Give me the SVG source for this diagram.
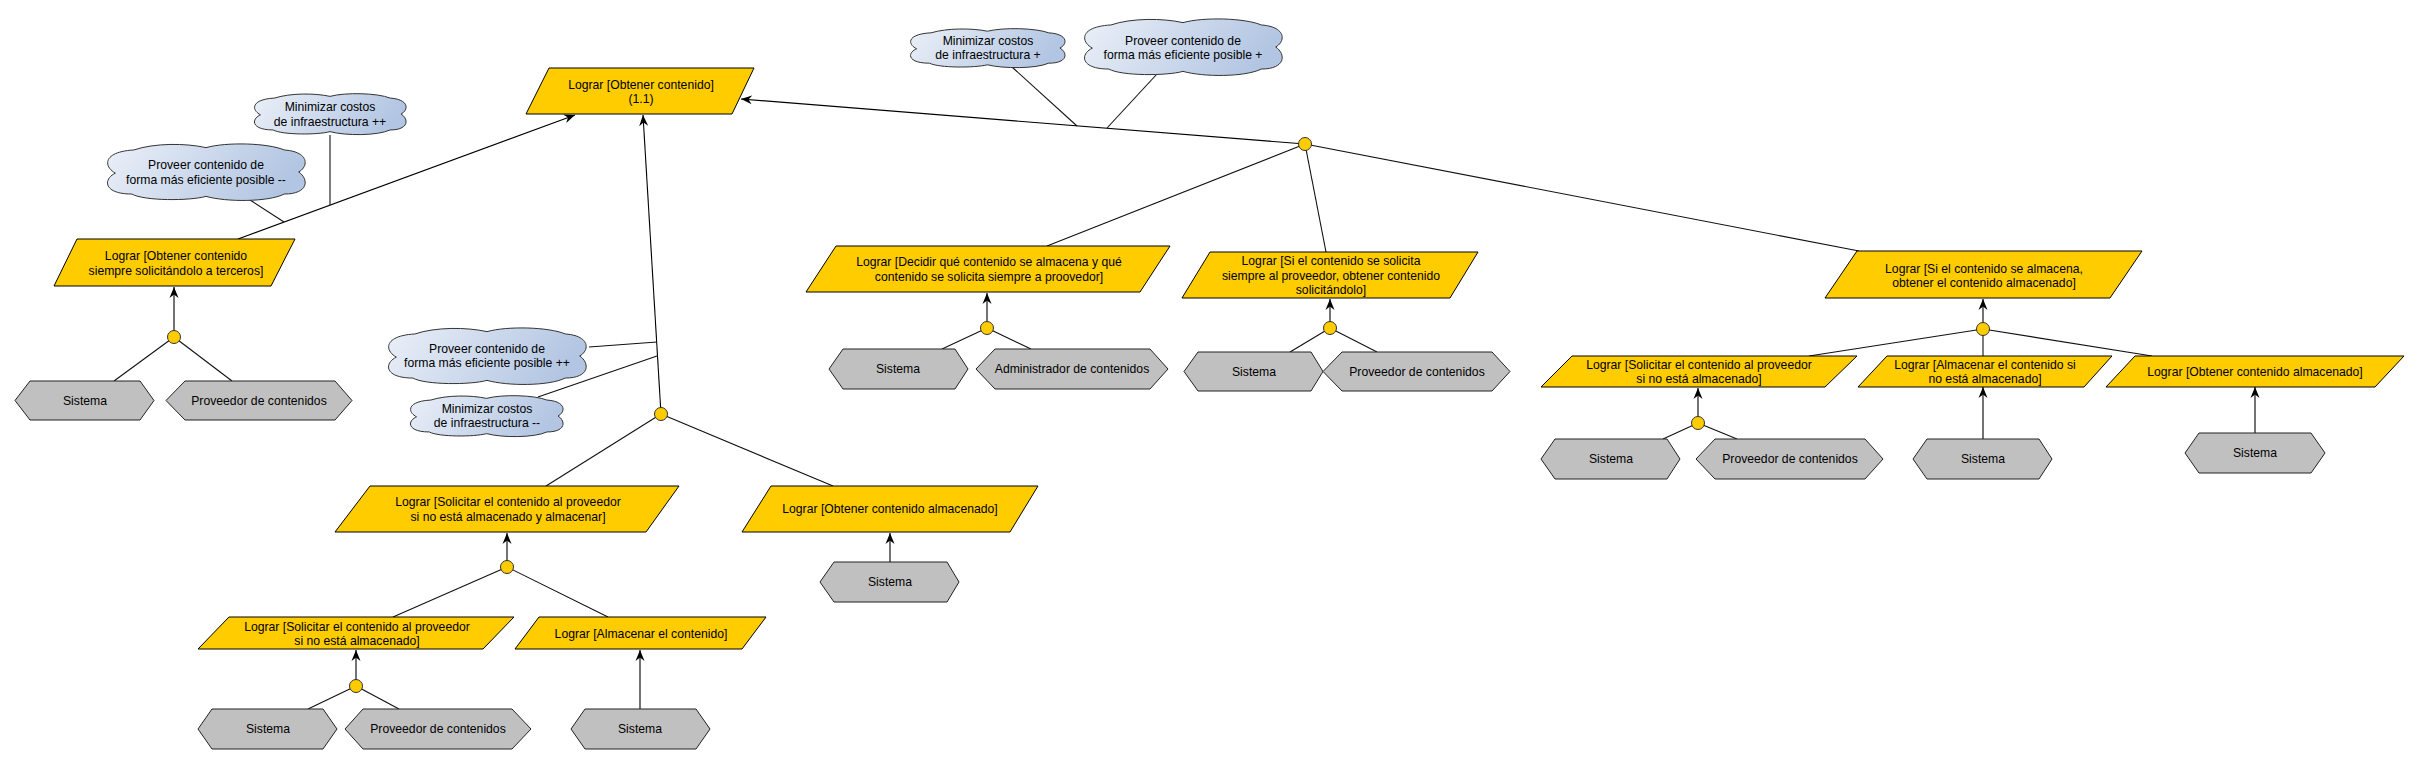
<svg xmlns="http://www.w3.org/2000/svg" xmlns:xlink="http://www.w3.org/1999/xlink" width="2417" height="765" viewBox="0 0 2417 765">
<style>
.goal{fill:#FFCC00;stroke:#000;stroke-width:1}
.actor{fill:#C0C0C0;stroke:#222;stroke-width:1}
.dot{fill:#FFCC00;stroke:#333;stroke-width:1}
.ln{stroke:#111;stroke-width:1.1;fill:none}
.arr{stroke:#000;stroke-width:1.1;fill:none;marker-end:url(#ah)}
text{font-family:"Liberation Sans",Arial,sans-serif;font-size:12.2px;fill:#000;text-anchor:middle}
</style>
<defs>
<linearGradient id="cg" x1="0" y1="0" x2="1" y2="0.2">
<stop offset="0" stop-color="#EBF0F8"/>
<stop offset="1" stop-color="#B2C5E2"/>
</linearGradient>
<path id="cloud" d="M0.06,0.52 C0,0.40 0,0.15 0.15,0.12 C0.25,0 0.40,0 0.50,0.08 C0.60,-0.02 0.80,0 0.88,0.12 C1,0.15 1,0.40 0.95,0.50 C1,0.62 1,0.88 0.88,0.88 C0.80,1.02 0.60,1.02 0.50,0.92 C0.42,1 0.20,1 0.14,0.88 C0,0.88 0,0.62 0.06,0.52 Z" fill="url(#cg)" stroke="#333" stroke-width="1" vector-effect="non-scaling-stroke"/>
<marker id="ah" viewBox="-11 -5 12 10" refX="0" refY="0" markerWidth="12" markerHeight="10" orient="auto" markerUnits="userSpaceOnUse">
<path d="M0,0 L-11,-4.5 L-7.5,0 L-11,4.5 Z" fill="#000"/>
</marker>
</defs>
<rect width="2417" height="765" fill="#fff"/>

<g id="connectors">
<line class="arr" x1="238" y1="239" x2="575" y2="115"/>
<line class="arr" x1="1305" y1="144" x2="741" y2="99"/>
<line class="arr" x1="661" y1="414" x2="643" y2="115"/>
<line class="ln" x1="330" y1="135" x2="330" y2="205"/>
<line class="ln" x1="247" y1="198" x2="284" y2="222"/>
<line class="ln" x1="1012" y1="67" x2="1077" y2="126"/>
<line class="ln" x1="1157" y1="74" x2="1107" y2="128"/>
<line class="ln" x1="589" y1="347" x2="657" y2="342"/>
<line class="ln" x1="538" y1="397" x2="657" y2="356"/>
<line class="ln" x1="1305" y1="144" x2="1047" y2="246"/>
<line class="ln" x1="1305" y1="144" x2="1326" y2="252"/>
<line class="ln" x1="1305" y1="144" x2="1859" y2="251"/>
<line class="arr" x1="174" y1="331" x2="174" y2="287"/>
<line class="ln" x1="174" y1="337" x2="114" y2="381"/>
<line class="ln" x1="174" y1="337" x2="232" y2="381"/>
<line class="arr" x1="987" y1="322" x2="987" y2="293"/>
<line class="ln" x1="987" y1="328" x2="942" y2="349"/>
<line class="ln" x1="987" y1="328" x2="1031" y2="349"/>
<line class="arr" x1="1330" y1="322" x2="1330" y2="299"/>
<line class="ln" x1="1330" y1="328" x2="1290" y2="352"/>
<line class="ln" x1="1330" y1="328" x2="1377" y2="352"/>
<line class="arr" x1="1983" y1="323" x2="1983" y2="299"/>
<line class="ln" x1="1983" y1="329" x2="1809" y2="356"/>
<line class="ln" x1="1983" y1="329" x2="1983" y2="356"/>
<line class="ln" x1="1983" y1="329" x2="2152" y2="356"/>
<line class="arr" x1="1698" y1="417" x2="1698" y2="388"/>
<line class="ln" x1="1698" y1="423" x2="1663" y2="439"/>
<line class="ln" x1="1698" y1="423" x2="1737" y2="439"/>
<line class="ln" x1="661" y1="414" x2="546" y2="486"/>
<line class="ln" x1="661" y1="414" x2="833" y2="486"/>
<line class="arr" x1="507" y1="561" x2="507" y2="533"/>
<line class="ln" x1="507" y1="567" x2="393" y2="617"/>
<line class="ln" x1="507" y1="567" x2="608" y2="617"/>
<line class="arr" x1="356" y1="680" x2="356" y2="650"/>
<line class="ln" x1="356" y1="686" x2="308" y2="709"/>
<line class="ln" x1="356" y1="686" x2="399" y2="709"/>
<line class="arr" x1="2255" y1="433" x2="2255" y2="387"/>
<line class="arr" x1="1983" y1="439" x2="1983" y2="387"/>
<line class="arr" x1="890" y1="562" x2="890" y2="533"/>
<line class="arr" x1="640" y1="709" x2="640" y2="650"/>
</g>

<g id="dots">
<circle class="dot" cx="174" cy="337" r="6.5"/>
<circle class="dot" cx="987" cy="328" r="6.5"/>
<circle class="dot" cx="1330" cy="328" r="6.5"/>
<circle class="dot" cx="1983" cy="329" r="6.5"/>
<circle class="dot" cx="1698" cy="423" r="6.5"/>
<circle class="dot" cx="1305" cy="144" r="6.5"/>
<circle class="dot" cx="661" cy="414" r="6.5"/>
<circle class="dot" cx="507" cy="567" r="6.5"/>
<circle class="dot" cx="356" cy="686" r="6.5"/>
</g>

<g id="c1"><use xlink:href="#cloud" href="#cloud" transform="translate(251,93) scale(158,42)"/><text x="330" y="111">Minimizar costos</text><text x="330" y="126">de infraestructura ++</text></g>
<g id="c2"><use xlink:href="#cloud" href="#cloud" transform="translate(103,143) scale(206,58)"/><text x="206" y="169">Proveer contenido de</text><text x="206" y="184">forma más eficiente posible --</text></g>
<g id="c3"><use xlink:href="#cloud" href="#cloud" transform="translate(907,28) scale(161,40)"/><text x="988" y="44.5">Minimizar costos</text><text x="988" y="58.5">de infraestructura +</text></g>
<g id="c4"><use xlink:href="#cloud" href="#cloud" transform="translate(1080,18) scale(206,58)"/><text x="1183" y="44.5">Proveer contenido de</text><text x="1183" y="58.5">forma más eficiente posible +</text></g>
<g id="c5"><use xlink:href="#cloud" href="#cloud" transform="translate(384,327) scale(206,58)"/><text x="487" y="353">Proveer contenido de</text><text x="487" y="367">forma más eficiente posible ++</text></g>
<g id="c6"><use xlink:href="#cloud" href="#cloud" transform="translate(407,395) scale(159,42)"/><text x="487" y="413">Minimizar costos</text><text x="487" y="427">de infraestructura --</text></g>

<g id="g1"><polygon class="goal" points="549,68 754,68 732,114 526,114"/><text x="641" y="89">Lograr [Obtener contenido]</text><text x="641" y="103">(1.1)</text></g>
<g id="g2"><polygon class="goal" points="77,239 295,239 271,286 54,286"/><text x="176" y="260">Lograr [Obtener contenido</text><text x="176" y="275">siempre solicitándolo a terceros]</text></g>
<g id="g3"><polygon class="goal" points="836,246 1170,246 1140,292 806,292"/><text x="989" y="266">Lograr [Decidir qué contenido se almacena y qué</text><text x="989" y="281">contenido se solicita siempre a proovedor]</text></g>
<g id="g4"><polygon class="goal" points="1210,252 1478,252 1450,298 1182,298"/><text x="1331" y="265">Lograr [Si el contenido se solicita</text><text x="1331" y="279.5">siempre al proveedor, obtener contenido</text><text x="1331" y="294">solicitándolo]</text></g>
<g id="g5"><polygon class="goal" points="1857,251 2142,251 2110,298 1825,298"/><text x="1984" y="273">Lograr [Si el contenido se almacena,</text><text x="1984" y="287">obtener el contenido almacenado]</text></g>
<g id="g6"><polygon class="goal" points="1572,356 1857,356 1825,387 1541,387"/><text x="1699" y="369">Lograr [Solicitar el contenido al proveedor</text><text x="1699" y="383">si no está almacenado]</text></g>
<g id="g7"><polygon class="goal" points="1887,356 2112,356 2084,387 1858,387"/><text x="1985" y="369">Lograr [Almacenar el contenido si</text><text x="1985" y="383">no está almacenado]</text></g>
<g id="g8"><polygon class="goal" points="2135,356 2404,356 2375,387 2106,387"/><text x="2255" y="376">Lograr [Obtener contenido almacenado]</text></g>
<g id="g9"><polygon class="goal" points="370,486 679,486 646,532 335,532"/><text x="508" y="506">Lograr [Solicitar el contenido al proveedor</text><text x="508" y="521">si no está almacenado y almacenar]</text></g>
<g id="g10"><polygon class="goal" points="771,486 1038,486 1010,532 742,532"/><text x="890" y="513">Lograr [Obtener contenido almacenado]</text></g>
<g id="g11"><polygon class="goal" points="229,617 514,617 483,649 198,649"/><text x="357" y="631">Lograr [Solicitar el contenido al proveedor</text><text x="357" y="645">si no está almacenado]</text></g>
<g id="g12"><polygon class="goal" points="539,617 766,617 742,649 515,649"/><text x="641" y="638">Lograr [Almacenar el contenido]</text></g>

<g id="h1"><polygon class="actor" points="15,400.5 30,381 140,381 154,400.5 140,420 30,420"/><text x="85" y="405">Sistema</text></g>
<g id="h2"><polygon class="actor" points="166,400.5 185,381 335,381 352,400.5 335,420 185,420"/><text x="259" y="405">Proveedor de contenidos</text></g>
<g id="h3"><polygon class="actor" points="829,369 843,349 955,349 968,369 955,389 843,389"/><text x="898" y="373">Sistema</text></g>
<g id="h4"><polygon class="actor" points="976,369 995,349 1150,349 1168,369 1150,389 995,389"/><text x="1072" y="373">Administrador de contenidos</text></g>
<g id="h5"><polygon class="actor" points="1184,371.5 1198,352 1311,352 1323,371.5 1311,391 1198,391"/><text x="1254" y="376">Sistema</text></g>
<g id="h6"><polygon class="actor" points="1323,371.5 1342,352 1492,352 1510,371.5 1492,391 1342,391"/><text x="1417" y="376">Proveedor de contenidos</text></g>
<g id="h7"><polygon class="actor" points="1541,459 1555,439 1667,439 1680,459 1667,479 1555,479"/><text x="1611" y="463">Sistema</text></g>
<g id="h8"><polygon class="actor" points="1696,459 1715,439 1865,439 1883,459 1865,479 1715,479"/><text x="1790" y="463">Proveedor de contenidos</text></g>
<g id="h9"><polygon class="actor" points="1913,459 1927,439 2039,439 2052,459 2039,479 1927,479"/><text x="1983" y="463">Sistema</text></g>
<g id="h10"><polygon class="actor" points="2185,453 2199,433 2311,433 2325,453 2311,473 2199,473"/><text x="2255" y="457">Sistema</text></g>
<g id="h11"><polygon class="actor" points="820,582 834,562 947,562 959,582 947,602 834,602"/><text x="890" y="586">Sistema</text></g>
<g id="h12"><polygon class="actor" points="198,729 212,709 323,709 337,729 323,749 212,749"/><text x="268" y="733">Sistema</text></g>
<g id="h13"><polygon class="actor" points="345,729 363,709 512,709 531,729 512,749 363,749"/><text x="438" y="733">Proveedor de contenidos</text></g>
<g id="h14"><polygon class="actor" points="571,729 585,709 696,709 710,729 696,749 585,749"/><text x="640" y="733">Sistema</text></g>
</svg>
